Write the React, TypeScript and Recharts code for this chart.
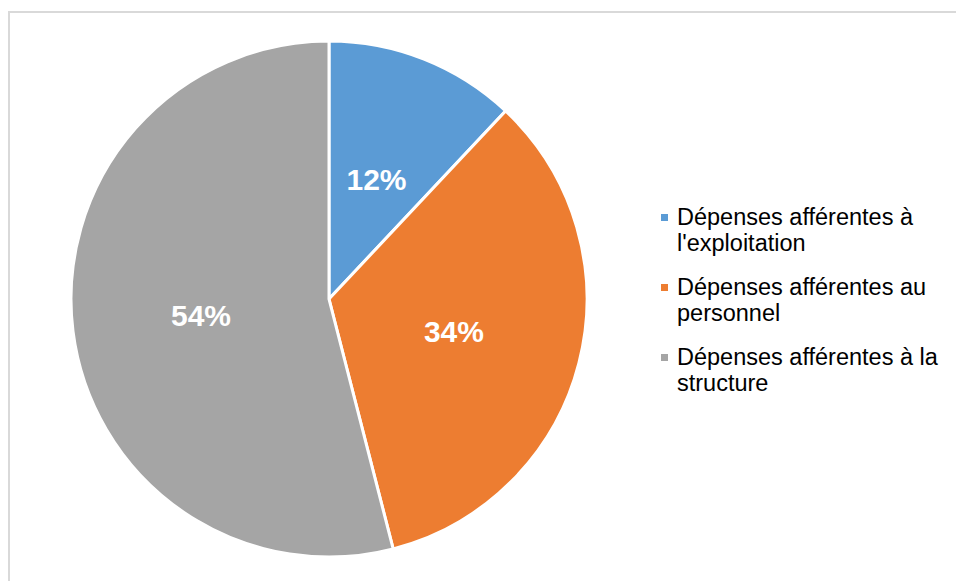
import React from 'react';
import { PieChart, Pie, Cell, Legend } from 'recharts';

const categories = [
  'Dépenses afférentes à l\'exploitation',
  'Dépenses afférentes au personnel',
  'Dépenses afférentes à la structure',
];
const shares = [12, 34, 54];
const COLORS = ['#5B9BD5', '#ED7D31', '#A5A5A5'];

const data = categories.map((name, i) => ({ name, value: shares[i] }));

const RADIAN = Math.PI / 180;

const renderLabel = (props: any) => {
  const { cx, cy, midAngle, outerRadius, value } = props;
  const r = outerRadius * 0.5;
  const x = cx + r * Math.cos(-midAngle * RADIAN);
  const y = cy + r * Math.sin(-midAngle * RADIAN);
  return (
    <text
      x={x}
      y={y}
      fill="#FFFFFF"
      textAnchor="middle"
      dominantBaseline="central"
      fontFamily="'Liberation Sans', Arial, sans-serif"
      fontWeight="bold"
      fontSize={30}
    >
      {`${value}%`}
    </text>
  );
};

const renderLegend = () => (
  <div style={{ fontFamily: "'Liberation Sans', Arial, sans-serif", fontSize: 23.5, lineHeight: '26px', color: '#000' }}>
    {data.map((entry, index) => (
      <div key={`item-${index}`} style={{ display: 'flex', alignItems: 'flex-start', marginBottom: 18 }}>
        <div style={{ width: 7, height: 7, marginTop: 10, marginRight: 9, background: COLORS[index], flexShrink: 0 }} />
        <div style={{ width: 282, whiteSpace: 'normal' }}>{entry.name}</div>
      </div>
    ))}
  </div>
);

export default function App() {
  return (
    <div
      style={{
        position: 'fixed',
        left: 8,
        top: 11,
        width: 948,
        height: 570,
        borderTop: '2px solid #D9D9D9',
        borderLeft: '2px solid #D9D9D9',
        background: '#fff',
        overflow: 'hidden',
      }}
    >
      <PieChart width={946} height={568} margin={{ top: 0, right: 0, left: 0, bottom: 0 }}>
        <Pie
          data={data}
          dataKey="value"
          nameKey="name"
          cx={319}
          cy={286}
          outerRadius={258}
          startAngle={90}
          endAngle={-270}
          stroke="#FFFFFF"
          strokeWidth={3}
          label={renderLabel}
          labelLine={false}
          isAnimationActive={false}
        >
          {data.map((entry, index) => (
            <Cell key={`cell-${index}`} fill={COLORS[index]} />
          ))}
        </Pie>
        <Legend
          content={renderLegend}
          wrapperStyle={{ position: 'absolute', left: 651, top: 191, width: 295 }}
        />
      </PieChart>
    </div>
  );
}
